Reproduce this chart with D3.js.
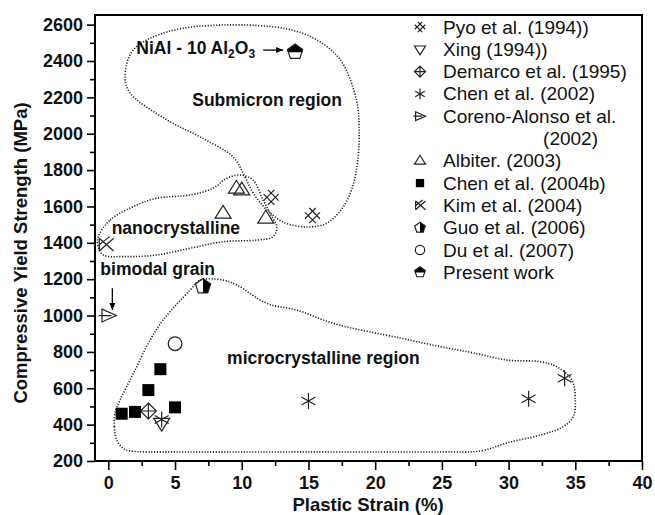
<!DOCTYPE html>
<html lang="en">
<head>
  <meta charset="UTF-8">
  <title>Compressive Yield Strength vs Plastic Strain</title>
  <style>
    body { margin: 0; background: #fff; }
    svg { font-family: "Liberation Sans", Arial, sans-serif; }
    .axis text { font-size: 18px; font-weight: bold; fill: #111; }
    .axis line { stroke: #000; stroke-width: 1.6; }
    .axis path { display: none; }
    .frame { fill: none; stroke: #000; stroke-width: 2; }
    .boundary { fill: none; stroke: #222; stroke-width: 1.6; stroke-dasharray: 1.2,1.6; }
    .mark { fill: none; stroke: #222; stroke-width: 1.2; }
    .note { font-size: 17.5px; font-weight: bold; fill: #111; }
    .title { font-size: 18.5px; font-weight: bold; fill: #111; }
    .legend text { font-size: 19px; fill: #111; }
  </style>
</head>
<body>
<div id="chart"></div>
<script src="https://d3js.org/d3.v7.min.js"></script>
<script>
// data (x = plastic strain %, y = MPa)
const pyo = [[12.2, 1650], [15.3, 1550]];
const xing = [[4.0, 408]];
const demarco = [[3.0, 475]];
const chen2002 = [[4.0, 428], [15.0, 530], [31.5, 542], [34.2, 655]];
const coreno = [[0, 1000]];
const albiter = [[8.6, 1562], [11.8, 1535], [9.6, 1700], [10.0, 1690]];
const chen2004b = [[1.0, 460], [2.0, 470], [3.0, 590], [3.9, 705], [5.0, 495]];
const kim = [[-0.2, 1390]];
const guo = [[7.1, 1160]];
const du = [[5.0, 845]];
const present = [[14.0, 2450]];

const xTicks = [0, 5, 10, 15, 20, 25, 30, 35, 40];
const yTicks = [200, 400, 600, 800, 1000, 1200, 1400, 1600, 1800, 2000, 2200, 2400, 2600];

// dotted region outlines (data units)
const submicron = [[9.35, 1872], [10.25, 1762], [10.85, 1674], [11.9, 1580], [13.1, 1514], [14.9, 1487],
  [16.4, 1509], [17.6, 1597], [18.3, 1707], [18.7, 1855], [18.8, 2020], [18.6, 2185], [17.4, 2405],
  [15.65, 2515], [13.4, 2576], [8.6, 2598], [4.4, 2560], [1.86, 2460], [1.25, 2312], [1.63, 2224],
  [4.4, 2076], [6.88, 1982]];
const nano = [[-0.75, 1434], [0.13, 1525], [1.85, 1599], [3.63, 1645], [6.13, 1663], [7.85, 1700],
  [8.88, 1755], [9.88, 1773], [10.85, 1745], [11.6, 1635], [12.25, 1544], [12.63, 1489], [12.35, 1434],
  [11.13, 1415], [8.6, 1406], [6.13, 1370], [3.63, 1333], [1.13, 1324], [-0.38, 1333], [-0.77, 1379]];
const micro = [[0.63, 315], [0.45, 389], [0.5, 462], [0.88, 535], [1.88, 682], [3.13, 865], [4.1, 975],
  [6.13, 1140], [6.88, 1195], [8.6, 1195], [9.63, 1168], [11.88, 1067], [14.13, 1030], [16.85, 957],
  [21.9, 876], [24.9, 829], [27.4, 794], [29.9, 755], [32.4, 746], [33.6, 719], [34.75, 645],
  [35.0, 535], [34.85, 444], [34.1, 389], [32.4, 343], [29.9, 300], [27.9, 255], [25, 250],
  [15, 250], [5, 250], [1.6, 256], [1.1, 270]];

const width = 655, height = 515;
const svg = d3.select("#chart").append("svg")
  .attr("width", width).attr("height", height);

const x = d3.scaleLinear().domain([-1, 40]).range([95, 642]);
const y = d3.scaleLinear().domain([200, 2653]).range([461, 15]);

// axes, ticks point outward
const xMinor = xTicks.slice(0, -1).map(d => d + 2.5);
const yMinor = yTicks.slice(0, -1).map(d => d + 100);

svg.append("g").attr("class", "axis")
  .attr("transform", `translate(0,${y(200)})`)
  .call(d3.axisBottom(x).tickValues(xMinor).tickSize(5).tickFormat(""));
svg.append("g").attr("class", "axis")
  .attr("transform", `translate(0,${y(200)})`)
  .call(d3.axisBottom(x).tickValues(xTicks).tickSize(9).tickPadding(6).tickFormat(d3.format("d")));
svg.append("g").attr("class", "axis")
  .attr("transform", `translate(${x(-1)},0)`)
  .call(d3.axisLeft(y).tickValues(yMinor).tickSize(5).tickFormat(""));
svg.append("g").attr("class", "axis")
  .attr("transform", `translate(${x(-1)},0)`)
  .call(d3.axisLeft(y).tickValues(yTicks).tickSize(8).tickPadding(4).tickFormat(d3.format("d")));

svg.append("rect").attr("class", "frame")
  .attr("x", x(-1)).attr("y", y(2653))
  .attr("width", x(40) - x(-1)).attr("height", y(200) - y(2653));

// axis titles
svg.append("text").attr("class", "title")
  .attr("x", 368).attr("y", 511)
  .attr("text-anchor", "middle").text("Plastic Strain (%)");
svg.append("text").attr("class", "title")
  .attr("transform", "translate(27,253) rotate(-90)")
  .attr("text-anchor", "middle").text("Compressive Yield Strength (MPa)");

// region outlines
const outline = d3.line().x(d => x(d[0])).y(d => y(d[1])).curve(d3.curveCatmullRomClosed.alpha(0.5));
[submicron, nano, micro].forEach(r => {
  svg.append("path").attr("class", "boundary").attr("d", outline(r));
});

// symbol drawers: g is a group translated to the point, s is half size
const shapes = {
  pyo(g, s) {
    // hatched diamond: two pairs of crossing diagonals
    const d = s * 0.38, L = s * 0.95;
    const seg = (ox, oy, dx, dy) => `M${ox - dx * L},${oy - dy * L}L${ox + dx * L},${oy + dy * L}`;
    const u = Math.SQRT1_2;
    g.append("path").attr("class", "mark")
      .attr("d", seg(d * u, -d * u, u, u) + seg(-d * u, d * u, u, u) +
                 seg(d * u, d * u, u, -u) + seg(-d * u, -d * u, u, -u));
  },
  xing(g, s) {
    g.append("path").attr("class", "mark")
      .attr("d", `M${-s},${-s * 0.6}L${s},${-s * 0.6}L0,${s}Z`);
  },
  demarco(g, s) {
    g.append("path").attr("class", "mark")
      .attr("d", `M0,${-s}L${s},0L0,${s}L${-s},0ZM0,${-s}V${s}M${-s},0H${s}`);
  },
  chen2002(g, s) {
    const a = s * 0.87, b = s * 0.5;
    g.append("path").attr("class", "mark")
      .attr("d", `M0,${-s}V${s}M${-a},${-b}L${a},${b}M${-a},${b}L${a},${-b}`);
  },
  coreno(g, s) {
    g.append("path").attr("class", "mark")
      .attr("d", `M${-s * 0.8},${-s * 0.8}L${s},0L${-s * 0.8},${s * 0.8}ZM${-s * 1.2},0H${s * 0.4}`);
  },
  albiter(g, s) {
    g.append("path").attr("class", "mark")
      .attr("d", `M${-s},${s * 0.6}L${s},${s * 0.6}L0,${-s}Z`);
  },
  chen2004b(g, s) {
    g.append("rect").attr("x", -s * 0.75).attr("y", -s * 0.75)
      .attr("width", s * 1.5).attr("height", s * 1.5).attr("fill", "#000");
  },
  kim(g, s) {
    g.append("path").attr("class", "mark")
      .attr("d", `M${-s * 0.8},${-s * 0.8}V${s * 0.8}M${-s * 0.8},${-s * 0.8}L${s},${s * 0.8}
        M${-s * 0.8},${s * 0.8}L${s},${-s * 0.8}M${-s * 0.8},0L${s * 0.5},${-s}`);
  },
  guo(g, s) {
    const p = d3.range(5).map(i => {
      const t = -Math.PI / 2 + i * 2 * Math.PI / 5;
      return [s * Math.cos(t), s * Math.sin(t)];
    });
    g.append("path").attr("fill", "#000")
      .attr("d", `M0,${-s}L${p[1]}L${p[2]}L0,${p[2][1]}Z`);
    g.append("path").attr("class", "mark").attr("d", `M${p.join("L")}Z`);
  },
  du(g, s) {
    g.append("circle").attr("class", "mark").attr("r", s * 0.85);
  },
  present(g, s) {
    const p = d3.range(5).map(i => {
      const t = -Math.PI / 2 + i * 2 * Math.PI / 5;
      return [s * Math.cos(t), s * Math.sin(t)];
    });
    g.append("path").attr("fill", "#000")
      .attr("d", `M${p[0]}L${p[1]}L${p[1][0]},${s * 0.05}L${p[4][0]},${s * 0.05}L${p[4]}Z`);
    g.append("path").attr("class", "mark").attr("d", `M${p.join("L")}Z`);
  }
};

const series = [
  { key: "pyo", name: "Pyo et al. (1994))", data: pyo },
  { key: "xing", name: "Xing (1994))", data: xing },
  { key: "demarco", name: "Demarco et al. (1995)", data: demarco },
  { key: "chen2002", name: "Chen et al. (2002)", data: chen2002 },
  { key: "coreno", name: ["Coreno-Alonso et al.", "(2002)"], data: coreno },
  { key: "albiter", name: "Albiter. (2003)", data: albiter },
  { key: "chen2004b", name: "Chen et al. (2004b)", data: chen2004b },
  { key: "kim", name: "Kim et al. (2004)", data: kim },
  { key: "guo", name: "Guo et al. (2006)", data: guo },
  { key: "du", name: "Du et al. (2007)", data: du },
  { key: "present", name: "Present work", data: present }
];

series.forEach(sr => {
  sr.data.forEach(d => {
    const g = svg.append("g").attr("transform", `translate(${x(d[0])},${y(d[1])})`);
    shapes[sr.key](g, 8);
  });
});

// annotations
svg.append("text").attr("class", "note")
  .attr("x", x(2.1)).attr("y", y(2440))
  .html('NiAl - 10 Al<tspan dy="4" font-size="12">2</tspan><tspan dy="-4">O</tspan><tspan dy="4" font-size="12">3</tspan>');
svg.append("text").attr("class", "note").attr("x", x(11.9)).attr("y", y(2150))
  .attr("text-anchor", "middle").text("Submicron region");
svg.append("text").attr("class", "note").attr("x", x(0.25)).attr("y", y(1450)).text("nanocrystalline");
svg.append("text").attr("class", "note").attr("x", x(-0.6)).attr("y", y(1222)).text("bimodal grain");
svg.append("text").attr("class", "note").attr("x", x(8.9)).attr("y", y(735)).text("microcrystalline region");

const arrow = (x1, y1, x2, y2) => {
  const ax1 = x(x1), ay1 = y(y1), ax2 = x(x2), ay2 = y(y2);
  const ang = Math.atan2(ay2 - ay1, ax2 - ax1), h = 7, w = 3;
  svg.append("line").attr("x1", ax1).attr("y1", ay1).attr("x2", ax2).attr("y2", ay2)
    .attr("stroke", "#000").attr("stroke-width", 1.3);
  svg.append("path").attr("fill", "#000")
    .attr("d", `M${ax2},${ay2}L${ax2 - h * Math.cos(ang) + w * Math.sin(ang)},${ay2 - h * Math.sin(ang) - w * Math.cos(ang)}
      L${ax2 - h * Math.cos(ang) - w * Math.sin(ang)},${ay2 - h * Math.sin(ang) + w * Math.cos(ang)}Z`);
};
arrow(11.6, 2460, 13.1, 2460);
arrow(0.3, 1150, 0.3, 1030);

// legend (no border)
const lg = svg.append("g").attr("class", "legend");
let row = 0;
series.forEach(sr => {
  const cy = 27 + row * 22.3;
  const g = lg.append("g").attr("transform", `translate(420,${cy})`);
  shapes[sr.key](g, 5.5);
  const names = Array.isArray(sr.name) ? sr.name : [sr.name];
  names.forEach((n, i) => {
    lg.append("text")
      .attr("x", i === 0 ? 443 : 598).attr("y", cy + i * 22.3 + 6.5)
      .attr("text-anchor", i === 0 ? "start" : "end").text(n);
  });
  row += names.length;
});
</script>
</body>
</html>
